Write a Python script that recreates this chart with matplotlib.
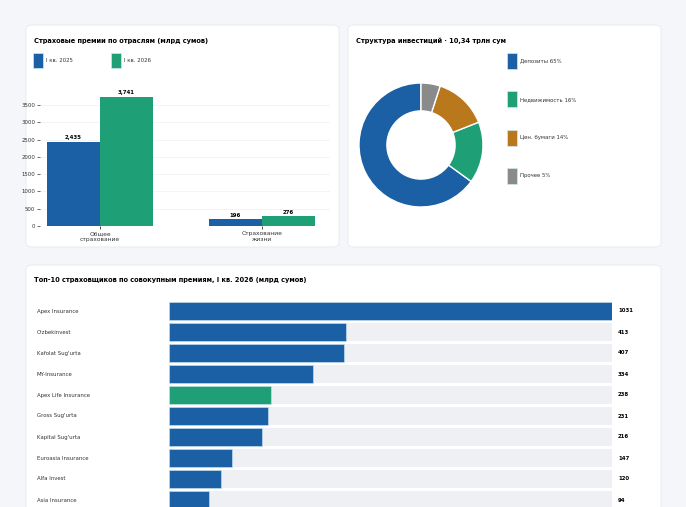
import matplotlib
matplotlib.use("Agg")
import matplotlib.pyplot as plt
from matplotlib.patches import FancyBboxPatch, Rectangle

# colours
BLUE = "#1b5fa5"
GREEN = "#1f9f76"
ORANGE = "#b8781b"
GREY = "#8a8a8a"
TRACK = "#eef0f3"

# bar chart data
sectors = ["Общее\nстрахование", "Страхование\nжизни"]
prem_2025 = [2435, 196]
prem_2026 = [3741, 276]
periods = ["I кв. 2025", "I кв. 2026"]

# donut data
inv_labels = ["Депозиты 65%", "Недвижимость 16%", "Цен. бумаги 14%", "Прочее 5%"]
inv_shares = [65, 16, 14, 5]
inv_colors = [BLUE, GREEN, ORANGE, GREY]

# top-10 insurers
insurers = ["Apex Insurance", "O'zbekinvest", "Kafolat Sug'urta", "MY-Insurance",
            "Apex Life Insurance", "Gross Sug'urta", "Kapital Sug'urta",
            "Euroasia Insurance", "Alfa Invest", "Asia Insurance"]
ins_values = [1031, 413, 407, 334, 238, 231, 216, 147, 120, 94]
highlight = "Apex Life Insurance"

W, H = 686, 507
fig = plt.figure(figsize=(W / 100, H / 100), dpi=100)
fig.patch.set_facecolor("#f4f6f9")

TITLE_FS = 4.8
SMALL_FS = 3.9


def fx(x):
    return x / W


def fy(y):
    return 1 - y / H


def px_axes(x0, y0, x1, y1):
    ax = fig.add_axes([fx(x0), fy(y1), (x1 - x0) / W, (y1 - y0) / H])
    ax.set_facecolor("none")
    ax.set_zorder(1)
    return ax


def card(x0, y0, x1, y1):
    fig.patches.append(FancyBboxPatch((fx(x0), fy(y1)), (x1 - x0) / W, (y1 - y0) / H,
                                      boxstyle="round,pad=0,rounding_size=0.009",
                                      transform=fig.transFigure, facecolor="white",
                                      edgecolor="#e6e9ee", linewidth=0.6, zorder=-1))


def swatch(x0, y0, x1, y1, color):
    fig.patches.append(Rectangle((fx(x0), fy(y1)), (x1 - x0) / W, (y1 - y0) / H,
                                 transform=fig.transFigure, facecolor=color,
                                 edgecolor="#cfe9f5", linewidth=0.5, zorder=2))


card(26, 25, 339, 247)
card(348, 25, 661, 247)
card(26, 265, 661, 520)

# ---- bar chart: premiums by sector
fig.text(fx(34), fy(41), "Страховые премии по отраслям (млрд сумов)",
         fontsize=TITLE_FS, fontweight="bold", va="center")
swatch(33, 53, 43, 68, BLUE)
fig.text(fx(46), fy(61), periods[0], fontsize=SMALL_FS, va="center", color="#333333")
swatch(111, 53, 121, 68, GREEN)
fig.text(fx(124), fy(61), periods[1], fontsize=SMALL_FS, va="center", color="#333333")

ax1 = px_axes(40, 89.5, 330, 226)
xs = [0, 1]
bw = 0.327
b1 = ax1.bar([x - bw / 2 for x in xs], prem_2025, width=bw, color=BLUE, zorder=3)
b2 = ax1.bar([x + bw / 2 for x in xs], prem_2026, width=bw, color=GREEN, zorder=3)
for bars, vals in ((b1, prem_2025), (b2, prem_2026)):
    for b, v in zip(bars, vals):
        ax1.text(b.get_x() + b.get_width() / 2, v + 40, f"{v:,}", ha="center",
                 va="bottom", fontsize=SMALL_FS, fontweight="bold")
ax1.set_xlim(-0.37, 1.42)
ax1.set_ylim(0, 3950)
ax1.set_yticks(range(0, 4000, 500))
ax1.set_xticks(xs)
ax1.set_xticklabels(sectors, fontsize=4.3, color="#333333")
ax1.tick_params(axis="y", labelsize=SMALL_FS, length=2, width=0.5, pad=1.5, colors="#333333")
ax1.tick_params(axis="x", length=2, width=0.5, pad=1.5)
ax1.grid(axis="y", color="#f0f2f5", linewidth=0.6, zorder=0)
for s in ax1.spines.values():
    s.set_visible(False)

# ---- donut: investment structure
fig.text(fx(356), fy(41), "Структура инвестиций · 10,34 трлн сум",
         fontsize=TITLE_FS, fontweight="bold", va="center")
ax2 = px_axes(359, 83, 483, 207)
ax2.pie(inv_shares, colors=inv_colors, startangle=90, counterclock=True,
        wedgeprops=dict(width=0.45, edgecolor="white", linewidth=1.0))
ax2.set_xlim(-1, 1)
ax2.set_ylim(-1, 1)
ax2.set_aspect("equal")
for i, (lab, col) in enumerate(zip(inv_labels, inv_colors)):
    yc = 61 + i * 38.3
    swatch(507, yc - 8, 517, yc + 8, col)
    fig.text(fx(520), fy(yc), lab, fontsize=SMALL_FS, va="center", color="#333333")

# ---- top-10 insurers
fig.text(fx(34), fy(280), "Топ-10 страховщиков по совокупным премиям, I кв. 2026 (млрд сумов)",
         fontsize=TITLE_FS, fontweight="bold", va="center")
ax3 = px_axes(169, 300.5, 612, 510.5)
rows = list(range(len(insurers)))
vmax = max(ins_values)
ax3.barh(rows, [vmax] * len(rows), height=0.86, color=TRACK, zorder=1)
cols = [GREEN if n == highlight else BLUE for n in insurers]
ax3.barh(rows, ins_values, height=0.86, color=cols, edgecolor="#cfe9f5",
         linewidth=0.4, zorder=2)
ax3.set_xlim(0, vmax)
ax3.set_ylim(9.5, -0.5)
ytr = ax3.get_yaxis_transform()
for r, name, v in zip(rows, insurers, ins_values):
    ax3.text(-0.298, r, name, transform=ytr, ha="left", va="center",
             fontsize=SMALL_FS, color="#333333")
    ax3.text(1.0135, r, str(v), transform=ytr, ha="left", va="center",
             fontsize=SMALL_FS, fontweight="bold")
ax3.set_xticks([])
ax3.set_yticks([])
for s in ax3.spines.values():
    s.set_visible(False)

fig.savefig("out.png", dpi=100, facecolor=fig.get_facecolor())
